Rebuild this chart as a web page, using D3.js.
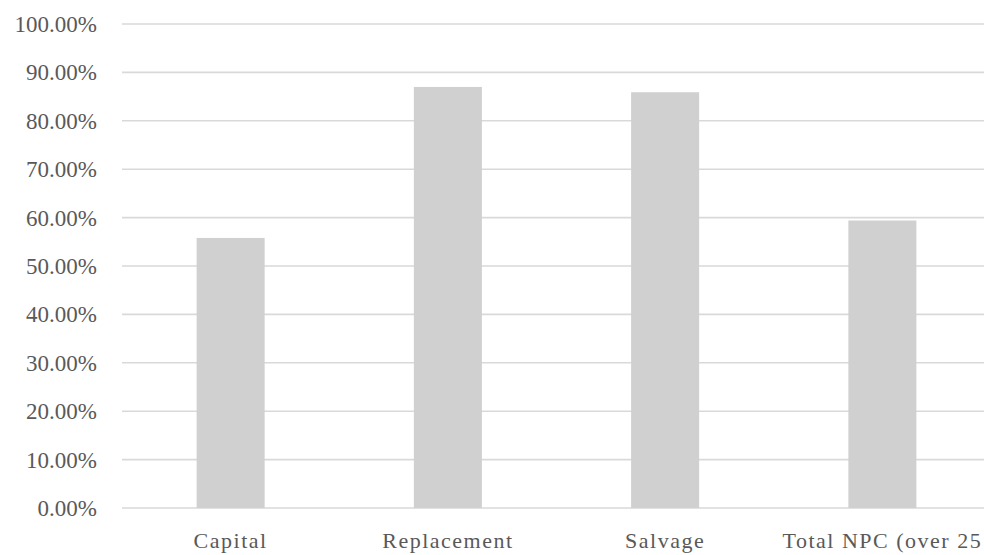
<!DOCTYPE html>
<html>
<head>
<meta charset="utf-8">
<script src="https://cdn.jsdelivr.net/npm/d3@7"></script>
<style>
  html, body { margin: 0; padding: 0; background: #ffffff; overflow: hidden; }
  svg { display: block; }
</style>
</head>
<body>
<svg id="chart" width="984" height="555"></svg>
<script>
// Share of cost by component
const categories = ["Capital", "Replacement", "Salvage", "Total NPC (over 25 years)"];
const values = [0.558, 0.870, 0.859, 0.594];
const yTicks = [0, 0.1, 0.2, 0.3, 0.4, 0.5, 0.6, 0.7, 0.8, 0.9, 1.0];

const svg = d3.select("#chart");
const W = 984, H = 555;
const plotLeft = 122, plotTop = 24, plotBottom = 508;
const plotRight = 991; // plot area runs past the right edge of the canvas

const x = d3.scaleBand()
  .domain(categories)
  .range([plotLeft, plotRight])
  .paddingInner(0.687)
  .paddingOuter(0.3435);

const y = d3.scaleLinear().domain([0, 1]).range([plotBottom, plotTop]);

const fmt = d => (d * 100).toFixed(2) + "%";
const font = "'Liberation Serif', serif";

// horizontal gridlines
svg.append("g")
  .selectAll("line")
  .data(yTicks)
  .join("line")
  .attr("x1", plotLeft)
  .attr("x2", W)
  .attr("y1", d => y(d))
  .attr("y2", d => y(d))
  .attr("stroke", "#d9d9d9")
  .attr("stroke-width", 1.6);

// y axis labels
const yAxis = d3.axisLeft(y).tickValues(yTicks).tickFormat(fmt).tickSize(0).tickPadding(0);
const gy = svg.append("g").attr("transform", "translate(97,0)").call(yAxis);
gy.select(".domain").remove();
gy.selectAll("text")
  .attr("font-family", font)
  .attr("font-size", 23)
  .attr("fill", "#595959")
  .attr("dy", "0.33em");

// bars
svg.append("g")
  .selectAll("rect")
  .data(categories)
  .join("rect")
  .attr("x", d => x(d))
  .attr("width", x.bandwidth())
  .attr("y", (d, i) => y(values[i]))
  .attr("height", (d, i) => y(0) - y(values[i]))
  .attr("fill", "#d0d0d0");

// category labels; long ones wrap, and only lines that fall on the canvas are drawn
const labelY = 548, lineGap = 25;
const wrapAt = 18;
function wrapLines(s) {
  if (s.length <= wrapAt) return [s];
  const cut = s.lastIndexOf(" ", wrapAt);
  return [s.slice(0, cut), s.slice(cut + 1)];
}
const xAxis = d3.axisBottom(x).tickSize(0).tickPadding(0).tickFormat(() => "");
const gx = svg.append("g").attr("transform", `translate(0,${labelY})`).call(xAxis);
gx.select(".domain").remove();
gx.selectAll(".tick text")
  .attr("font-family", font)
  .attr("font-size", 22)
  .attr("letter-spacing", 1.5)
  .attr("fill", "#595959")
  .attr("dy", 0)
  .attr("y", 0)
  .each(function(d) {
    const t = d3.select(this);
    wrapLines(d).forEach((line, i) => {
      if (labelY + i * lineGap > H) return;
      t.append("tspan").attr("x", 0).attr("dy", i * lineGap).text(line);
    });
  });
</script>
</body>
</html>
